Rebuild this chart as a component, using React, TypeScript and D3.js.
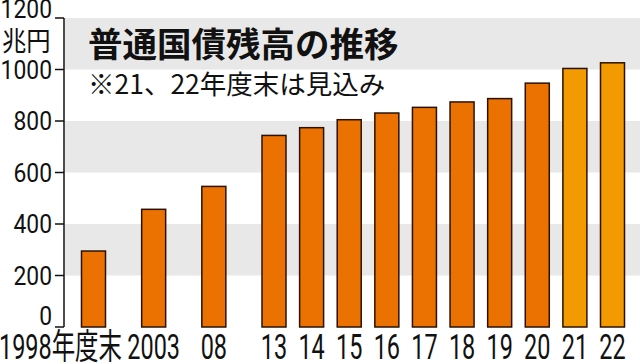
import React from 'react';
import * as d3 from 'd3';

// 普通国債残高（兆円）
const years = [1998, 2003, 2008, 2013, 2014, 2015, 2016, 2017, 2018, 2019, 2020, 2021, 2022];
const yearLabels = ['1998年度末', '2003', '08', '13', '14', '15', '16', '17', '18', '19', '20', '21', '22'];
const debt = [295, 457, 546, 744, 774, 805, 831, 853, 874, 887, 947, 1004, 1026];
const projected = [2021, 2022];
const yTicks = [0, 200, 400, 600, 800, 1000, 1200];
const bandStarts = [200, 600, 1000];

const title = '普通国債残高の推移';
const note = '※21、22年度末は見込み';
const unit = '兆円';

const numFont = 'Roboto, "Noto Sans CJK JP", sans-serif';
const jpFont = '"Noto Sans CJK JP", sans-serif';

function Squeezed({ x, y, sx, size, anchor, children }: any) {
  return (
    <text
      transform={`translate(${x},${y}) scale(${sx},1)`}
      textAnchor={anchor}
      fontFamily={numFont}
      fontSize={size}
      fill="#111"
    >
      {children}
    </text>
  );
}

export default function App() {
  const width = 640, height = 364;
  const axisX = 64;

  // 1998-2013は5年刻み、2013以降は1年刻みで間隔が違う
  const x = d3.scaleLinear().domain([1998, 2013, 2022]).range([93.5, 274, 612.5]);
  const y = d3.scaleLinear().domain([0, 1200]).range([327, 18]);
  const barW = 24;

  return (
    <svg width={width} height={height} style={{ position: 'absolute', left: 0, top: 0 }}>
      <rect width={width} height={height} fill="#fff" />
      {bandStarts.map(b => (
        <rect key={b} x={axisX + 1} y={y(b + 200)} width={width - axisX - 1} height={y(b) - y(b + 200)} fill="#e8e8e8" />
      ))}

      <text x={88} y={57} fontFamily={jpFont} fontWeight={700} fontSize={34.5} fill="#111">{title}</text>
      <text x={88} y={94} fontFamily={jpFont} fontSize={26.5} fill="#111">{note}</text>

      {years.map((yr, i) => (
        <rect
          key={yr}
          x={x(yr) - barW / 2}
          y={y(debt[i])}
          width={barW}
          height={y(0) - y(debt[i])}
          fill={projected.includes(yr) ? '#f39a00' : '#eb7100'}
          stroke="#2a1200"
          strokeWidth={1.5}
        />
      ))}

      <line x1={axisX} x2={axisX} y1={y(1200)} y2={y(0)} stroke="#111" strokeWidth={1.5} />
      {yTicks.map(t => {
        const ty = y(t);
        const dy = t === 1200 ? 0 : t === 0 ? -2 : 9;
        return (
          <g key={t}>
            <line x1={axisX - 9} x2={axisX} y1={ty} y2={ty} stroke="#111" strokeWidth={1.5} />
            <Squeezed x={52} y={ty + dy} sx={0.88} size={26} anchor="end">{t}</Squeezed>
          </g>
        );
      })}
      <text transform="translate(2,51) scale(0.9,1)" fontFamily={jpFont} fontSize={27} fill="#111">{unit}</text>

      {years.map((yr, i) => (
        i === 0
          ? <Squeezed key={yr} x={x(yr) + 28.5} y={359} sx={0.67} size={35} anchor="end">{yearLabels[i]}</Squeezed>
          : <Squeezed key={yr} x={x(yr)} y={359} sx={0.67} size={35} anchor="middle">{yearLabels[i]}</Squeezed>
      ))}
    </svg>
  );
}
